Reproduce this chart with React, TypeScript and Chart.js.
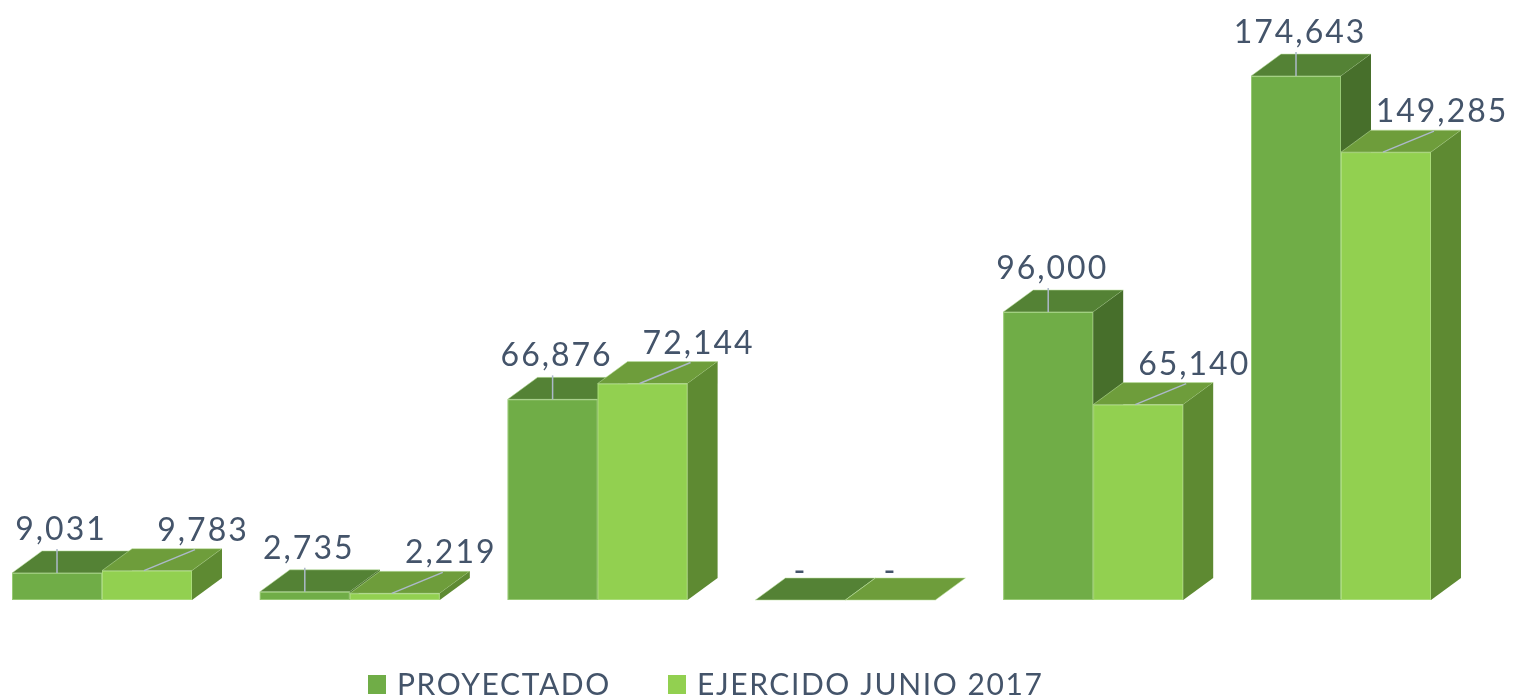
import React, { useEffect, useRef } from "react";
import { Chart, registerables } from "chart.js";

Chart.register(...registerables);

const categories = ["1", "2", "3", "4", "5", "6"];
const seriesNames = ["PROYECTADO", "EJERCIDO JUNIO 2017"];
const proyectado = [9031, 2735, 66876, 0, 96000, 174643];
const ejercido = [9783, 2219, 72144, 0, 65140, 149285];

const frontColors = ["#70AD47", "#92D050"];
const topColors = ["#548235", "#6E9D3B"];
const sideColors = ["#476F2B", "#5E8A32"];
const TEXT = "#44546A";
const LEADER = "#ADB9CA";
const DX = 30;
const DY = -22;
const FONT = "Lato, 'Open Sans', sans-serif";

const fmt = (v: number) => (v === 0 ? "-" : v.toLocaleString("en-US"));

const bars3d = {
  id: "bars3d",
  afterDatasetsDraw(chart: any) {
    const ctx = chart.ctx;
    ctx.save();
    chart.data.datasets.forEach((_ds: any, idx: number) => {
      const meta = chart.getDatasetMeta(idx);
      meta.data.forEach((bar: any) => {
        const { x, y, base, width } = bar.getProps(["x", "y", "base", "width"], true);
        const l = x - width / 2;
        const r = x + width / 2;
        ctx.lineWidth = 1;
        // front face
        if (base - y > 0.5) {
          ctx.fillStyle = frontColors[idx];
          ctx.fillRect(l, y, width, base - y);
          ctx.strokeStyle = "rgba(200,235,170,0.45)";
          ctx.strokeRect(l + 0.5, y + 0.5, width - 1, base - y - 1);
        }
        // top face
        ctx.beginPath();
        ctx.moveTo(l, y);
        ctx.lineTo(l + DX, y + DY);
        ctx.lineTo(r + DX, y + DY);
        ctx.lineTo(r, y);
        ctx.closePath();
        ctx.fillStyle = topColors[idx];
        ctx.fill();
        ctx.strokeStyle = "rgba(190,225,160,0.55)";
        ctx.stroke();
        // side face
        ctx.beginPath();
        ctx.moveTo(r, y);
        ctx.lineTo(r + DX, y + DY);
        ctx.lineTo(r + DX, base + DY);
        ctx.lineTo(r, base);
        ctx.closePath();
        ctx.fillStyle = sideColors[idx];
        ctx.fill();
      });
    });
    ctx.restore();
  },
  afterDraw(chart: any) {
    const ctx = chart.ctx;
    ctx.save();
    // data labels
    chart.data.datasets.forEach((ds: any, di: number) => {
      const meta = chart.getDatasetMeta(di);
      meta.data.forEach((bar: any, i: number) => {
        const { x, y } = bar.getProps(["x", "y"], true);
        const v = ds.data[i];
        ctx.font = `32px ${FONT}`;
        (ctx as any).letterSpacing = "2px";
        ctx.fillStyle = TEXT;
        ctx.textAlign = "center";
        ctx.textBaseline = "alphabetic";
        if (v === 0) {
          ctx.fillText("-", x, y - 18);
          return;
        }
        ctx.strokeStyle = LEADER;
        ctx.lineWidth = 1.5;
        ctx.beginPath();
        if (di === 0) {
          ctx.moveTo(x, y);
          ctx.lineTo(x, y - 24);
          ctx.stroke();
          ctx.fillText(fmt(v), x + 4, y - 33);
        } else {
          ctx.moveTo(x - 3, y);
          ctx.lineTo(x + 48, y - 21);
          ctx.stroke();
          ctx.fillText(fmt(v), x + 56, y - 30);
        }
      });
    });
    // legend
    const items = [
      { sq: 368, tx: 397 },
      { sq: 668, tx: 697 },
    ];
    ctx.font = `30px ${FONT}`;
    (ctx as any).letterSpacing = "1.6px";
    ctx.textAlign = "left";
    ctx.textBaseline = "alphabetic";
    items.forEach((it, i) => {
      ctx.fillStyle = frontColors[i];
      ctx.fillRect(it.sq, 675, 18, 19);
      ctx.fillStyle = TEXT;
      ctx.fillText(seriesNames[i], it.tx, 695);
    });
    (ctx as any).letterSpacing = "0px";
    ctx.restore();
  },
};

export default function App() {
  const ref = useRef<HTMLCanvasElement>(null);
  useEffect(() => {
    document.body.style.margin = "0";
    const canvas = ref.current!;
    const chart = new Chart(canvas, {
      type: "bar",
      data: {
        labels: categories,
        datasets: [
          {
            label: seriesNames[0],
            data: proyectado,
            backgroundColor: "rgba(0,0,0,0)",
            borderWidth: 0,
            clip: false as any,
          },
          {
            label: seriesNames[1],
            data: ejercido,
            backgroundColor: "rgba(0,0,0,0)",
            borderWidth: 0,
            clip: false as any,
          },
        ],
      },
      options: {
        animation: false,
        responsive: false,
        maintainAspectRatio: false,
        events: [],
        layout: { padding: { left: 102, right: 178, top: 0, bottom: 97 } },
        datasets: {
          bar: { categoryPercentage: 180 / 247.8, barPercentage: 1 },
        },
        scales: {
          x: { type: "category", offset: false, display: false },
          y: { min: 0, max: 200000, display: false },
        },
        plugins: {
          legend: { display: false },
          tooltip: { enabled: false },
        },
      },
      plugins: [bars3d],
    });
    return () => chart.destroy();
  }, []);
  return (
    <div style={{ position: "relative", width: 1519, height: 697, background: "#fff" }}>
      <canvas ref={ref} width={1519} height={697} style={{ width: 1519, height: 697, display: "block" }} />
    </div>
  );
}
